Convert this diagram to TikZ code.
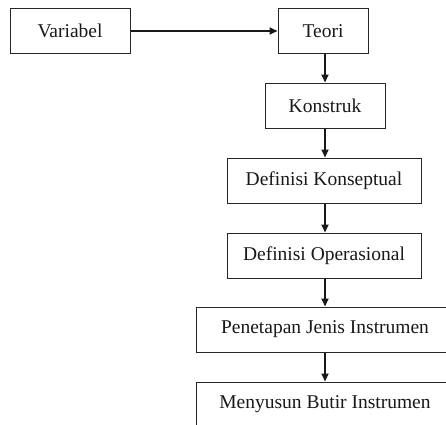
\documentclass[tikz,border=0pt]{standalone}
\usepackage{fontspec}
\setmainfont{Liberation Serif}
\usetikzlibrary{arrows.meta}
\tikzset{
  stagebox/.style={draw=black!85, line width=1pt, minimum height=45pt,
    inner sep=0pt, font=\fontsize{19.5pt}{22pt}\selectfont, text=black!90},
  flow/.style={draw=black!90, line width=1.8pt,
    arrows={-Triangle[length=8pt,width=7pt]}}
}
\begin{document}
\begin{tikzpicture}[x=1pt,y=1pt]
  % canvas 446 x 424, origin at lower left
  \useasboundingbox (0,0) rectangle (446,424);
  \fill[white] (0,0) rectangle (446,424);
  \begin{scope}
    \clip (0,0) rectangle (446,424);
    \node[stagebox, minimum width=120pt] (var) at (70,393) {Variabel};
    \node[stagebox, minimum width=90pt] (teori) at (323,393) {Teori};
    \node[stagebox, minimum width=120pt] (konstruk) at (325,318.5) {Konstruk};
    \node[stagebox, minimum width=194pt] (konsep) at (324,243.5) {Definisi Konseptual};
    \node[stagebox, minimum width=194pt] (operas) at (324,168.5) {Definisi Operasional};
    \node[stagebox, minimum width=258pt] (jenis) at (325,94.5) {Penetapan Jenis Instrumen};
    \node[stagebox, minimum width=258pt] (butir) at (325,19.5) {Menyusun Butir Instrumen};
    \draw[flow] (var.east) -- (teori.west);
    \draw[flow] (teori.south -| konstruk.north) -- (konstruk.north);
    \draw[flow] (konstruk.south) -- (konstruk.south |- konsep.north);
    \draw[flow] (konstruk.south |- konsep.south) -- (konstruk.south |- operas.north);
    \draw[flow] (konstruk.south |- operas.south) -- (jenis.north);
    \draw[flow] (jenis.south) -- (butir.north);
  \end{scope}
\end{tikzpicture}
\end{document}
